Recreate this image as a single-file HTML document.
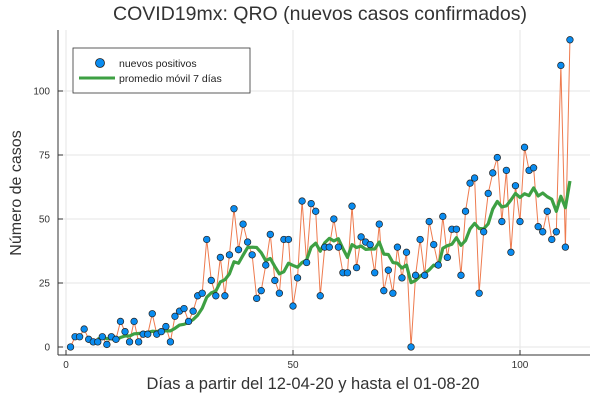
<!DOCTYPE html>
<html><head><meta charset="utf-8">
<style>
body{margin:0;background:#fff;}
svg{display:block;font-family:"Liberation Sans",sans-serif;}
</style></head>
<body>
<svg id="chart" width="600" height="400" viewBox="0 0 600 400">
<rect width="600" height="400" fill="#fff"/>
<text x="320" y="20" text-anchor="middle" font-size="19.5" fill="#333">COVID19mx: QRO (nuevos casos confirmados)</text>
<g id="grid"></g>
<g id="axes"></g>
<g id="series"></g>
<text x="313" y="389" text-anchor="middle" font-size="16.5" fill="#333">Días a partir del 12-04-20 y hasta el 01-08-20</text>
<text transform="translate(21,193) rotate(-90)" text-anchor="middle" font-size="16" fill="#333">Número de casos</text>
<g>
<rect x="73" y="48" width="177" height="45" fill="#fff" stroke="#333" stroke-width="0.8"/>
<circle cx="100" cy="63" r="4.5" fill="#0a8cf0" stroke="#222" stroke-width="0.8"/>
<text x="119" y="67" font-size="10.5" fill="#222">nuevos positivos</text>
<line x1="79" y1="78" x2="115" y2="78" stroke="#3ea043" stroke-width="3"/>
<text x="119" y="82" font-size="10.5" fill="#222">promedio móvil 7 días</text>
</g>
</svg>
<script>
const days = Array.from({length:111},(_,i)=>i+1);
const cases = [0,4,4,7,3,2,2,4,1,4,
3,10,6,2,10,2,5,5,13,5,
6,8,2,12,14,15,10,14,20,21,
42,26,20,35,20,36,54,38,48,41,
36,19,22,32,44,26,21,42,42,16,
27,57,33,56,53,20,39,39,50,39,
29,29,55,31,43,41,40,29,48,22,
30,21,39,27,37,0,
28,42,28,49,40,32,51,35,46,46,28,53,64,66,21,45,60,68,74,49,69,37,63,49,78,69,70,47,45,53,42,45,110,39,120];
const xTicks = [0,50,100];
const yTicks = [0,25,50,75,100];

const NS="http://www.w3.org/2000/svg";
const X0=66, XS=4.54, Y0=347, YS=2.56;
const L=58, R=590, T=30, B=355;
function xs(v){return X0+v*XS;}
function ys(v){return Y0-v*YS;}
function mk(tag,attrs,parent){const e=document.createElementNS(NS,tag);for(const k in attrs)e.setAttribute(k,attrs[k]);parent.appendChild(e);return e;}
const grid=document.getElementById('grid'),axes=document.getElementById('axes'),series=document.getElementById('series');

xTicks.forEach(t=>{
  const g=mk('line',{x1:xs(t),x2:xs(t),y1:T,y2:B,stroke:'#e6e6e6','stroke-width':1},grid);
  
  
  const tk=mk('line',{x1:xs(t),x2:xs(t),y1:B,y2:B-5,stroke:'#333','stroke-width':1},axes);
  
  
  const lb=mk('text',{x:xs(t),y:B+13,'text-anchor':'middle','font-size':10,fill:'#333'},axes);
  lb.textContent=t;
  
  
});
yTicks.forEach(t=>{
  const g=mk('line',{x1:L,x2:R,y1:ys(t),y2:ys(t),stroke:'#e6e6e6','stroke-width':1},grid);
  
  
  const tk=mk('line',{x1:L,x2:L+5,y1:ys(t),y2:ys(t),stroke:'#333','stroke-width':1},axes);
  
  
  const lb=mk('text',{x:L-8,y:ys(t)+3.5,'text-anchor':'end','font-size':10,fill:'#333'},axes);
  lb.textContent=t;
  
  
});
const ax=mk('line',{x1:L,x2:L,y1:T,y2:B,stroke:'#333','stroke-width':1},axes);


const bx=mk('line',{x1:L,x2:R,y1:B,y2:B,stroke:'#333','stroke-width':1},axes);



const raw=mk('polyline',{points:days.map((d,i)=>xs(d)+','+ys(cases[i])).join(' '),fill:'none',stroke:'#ee7b4f','stroke-width':1},series);



const avgPts=[];
for(let i=6;i<cases.length;i++){let s=0;for(let j=i-6;j<=i;j++)s+=cases[j];avgPts.push(xs(days[i])+','+ys(s/7));}
const avg=mk('polyline',{points:avgPts.join(' '),fill:'none',stroke:'#3ea043','stroke-width':3.2,'stroke-linejoin':'round'},series);



days.forEach((d,i)=>{
  const c=mk('circle',{cx:xs(d),cy:ys(cases[i]),r:3.3,fill:'#0a8cf0',stroke:'#222','stroke-width':0.7},series);
  
  
});
</script>
</body></html>
